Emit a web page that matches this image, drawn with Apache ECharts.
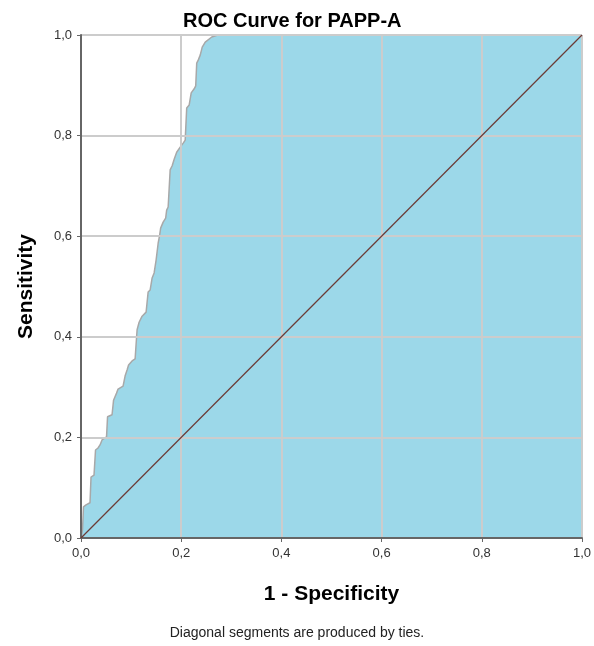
<!DOCTYPE html>
<html>
<head>
<meta charset="utf-8">
<title>ROC Curve for PAPP-A</title>
<script src="https://cdn.jsdelivr.net/npm/echarts@6/dist/echarts.min.js"></script>
<style>
    html, body { margin: 0; padding: 0; background: #fff; }
    #roc { width: 594px; height: 646px; }
</style>
</head>
<body>
<div id="roc"></div>
<script>
// 1 - Specificity (x) and Sensitivity (y)
var fpr = [0, 0.003, 0.005, 0.010, 0.018, 0.020, 0.026, 0.029, 0.034, 0.038, 0.042, 0.051, 0.053, 0.062,
    0.065, 0.071, 0.074, 0.084, 0.088, 0.092, 0.095, 0.102, 0.108, 0.111, 0.112, 0.116, 0.122, 0.130,
    0.134, 0.138, 0.142, 0.146, 0.150, 0.154, 0.157, 0.159, 0.164, 0.169, 0.171, 0.174, 0.178, 0.182,
    0.186, 0.191, 0.198, 0.204, 0.208, 0.211, 0.216, 0.220, 0.226, 0.229, 0.231, 0.234, 0.238, 0.242,
    0.248, 0.261, 0.273, 1];
var tpr = [0, 0.016, 0.062, 0.066, 0.070, 0.121, 0.125, 0.175, 0.179, 0.185, 0.195, 0.201, 0.241, 0.245,
    0.274, 0.288, 0.296, 0.302, 0.322, 0.334, 0.344, 0.352, 0.356, 0.400, 0.414, 0.429, 0.441, 0.449,
    0.489, 0.493, 0.517, 0.527, 0.553, 0.586, 0.602, 0.616, 0.628, 0.636, 0.652, 0.658, 0.732, 0.740,
    0.753, 0.767, 0.777, 0.785, 0.791, 0.855, 0.861, 0.885, 0.893, 0.899, 0.944, 0.950, 0.960, 0.976,
    0.986, 0.996, 1, 1];
// reference line
var refX = [0, 1];
var refY = [0, 1];

var rocData = [];
for (var i = 0; i < fpr.length; i++) {
    rocData.push([fpr[i], tpr[i]]);
}
var refData = [];
for (var j = 0; j < refX.length; j++) {
    refData.push([refX[j], refY[j]]);
}

// 小数点用逗号
function commaLabel(value) {
    return value.toFixed(1).replace('.', ',');
}

var myChart = echarts.init(document.getElementById('roc'));

var option = {
    animation: false,
    backgroundColor: '#ffffff',
    textStyle: { fontFamily: 'Liberation Sans, Arial, sans-serif' },
    title: {
        text: 'ROC Curve for PAPP-A',
        left: 178,
        top: 6,
        textStyle: { fontSize: 20, fontWeight: 'bold', color: '#000' }
    },
    graphic: [{
        type: 'text',
        left: 'center',
        top: 626,
        style: {
            text: 'Diagonal segments are produced by ties.',
            font: '14px Liberation Sans, Arial, sans-serif',
            fill: '#222'
        }
    }],
    grid: {
        left: 81,
        right: 12,
        top: 35,
        bottom: 108
    },
    xAxis: {
        type: 'value',
        min: 0,
        max: 1,
        interval: 0.2,
        z: 3,
        name: '1 - Specificity',
        nameLocation: 'middle',
        nameGap: 46,
        nameTextStyle: { fontSize: 21, fontWeight: 'bold', color: '#000' },
        axisLine: { show: true, lineStyle: { color: '#666', width: 2 } },
        axisTick: { show: true, length: 4, lineStyle: { color: '#666' } },
        axisLabel: { formatter: commaLabel, fontSize: 13, color: '#333', margin: 9 },
        splitLine: { show: true, lineStyle: { color: '#cccccc', width: 2 } }
    },
    yAxis: {
        type: 'value',
        min: 0,
        max: 1,
        interval: 0.2,
        z: 3,
        name: 'Sensitivity',
        nameLocation: 'middle',
        nameGap: 44,
        nameTextStyle: { fontSize: 21, fontWeight: 'bold', color: '#000' },
        axisLine: { show: true, lineStyle: { color: '#666', width: 2 } },
        axisTick: { show: true, length: 4, lineStyle: { color: '#666' } },
        axisLabel: { formatter: commaLabel, fontSize: 13, color: '#333', margin: 9 },
        splitLine: { show: true, lineStyle: { color: '#cccccc', width: 2 } }
    },
    series: [{
        name: 'PAPP-A',
        type: 'line',
        z: 1,
        data: rocData,
        symbol: 'none',
        lineStyle: { color: '#a8a8a8', width: 1.5 },
        areaStyle: { color: '#9cd8e9', opacity: 1, origin: 'start' }
    }, {
        name: 'Reference Line',
        type: 'line',
        z: 5,
        data: refData,
        symbol: 'none',
        lineStyle: { color: '#6b3a35', width: 1.2 }
    }]
};

myChart.setOption(option);
</script>
</body>
</html>
